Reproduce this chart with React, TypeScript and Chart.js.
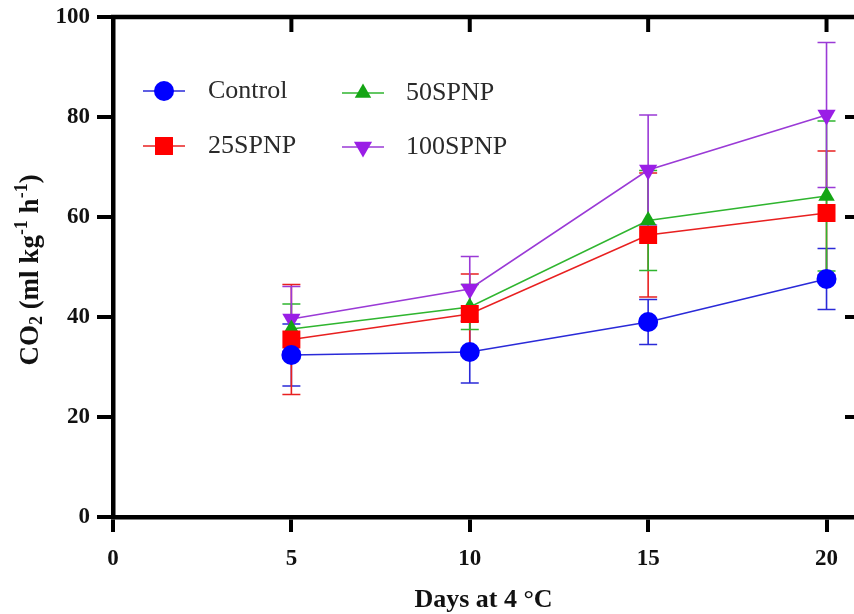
import React, { useEffect, useRef } from "react";
import { Chart, registerables } from "chart.js";

Chart.register(...registerables);

const days = [5, 10, 15, 20];
const seriesNames = ["Control", "25SPNP", "50SPNP", "100SPNP"];
const control = [32.4, 33.0, 39.0, 47.6];
const controlErr = [6.2, 6.2, 4.5, 6.1];
const spnp25 = [35.5, 40.6, 56.4, 60.8];
const spnp25Err = [11, 8, 12.4, 12.4];
const spnp50 = [37.6, 42.0, 59.3, 64.2];
const spnp50Err = [5, 4.5, 10, 15];
const spnp100 = [39.6, 45.6, 69.4, 80.4];
const spnp100Err = [6.5, 6.5, 11, 14.5];
const xTicks = [0, 5, 10, 15, 20];
const yTicks = [0, 20, 40, 60, 80, 100];

const FONT = "'Liberation Serif', 'Times New Roman', serif";

const styles = [
  { color: "#0000ff", line: "#2a2ad8", point: "circle", radius: 10, rotation: 0 },
  { color: "#ff0000", line: "#e82020", point: "rect", radius: 12.7, rotation: 0 },
  { color: "#14a514", line: "#2fb52f", point: "triangle", radius: 9.5, rotation: 0 },
  { color: "#9a1ee6", line: "#9a3ad6", point: "triangle", radius: 10.5, rotation: 180 },
];

const values = [control, spnp25, spnp50, spnp100];
const errors = [controlErr, spnp25Err, spnp50Err, spnp100Err];

const errorBarPlugin = {
  id: "errorBars",
  beforeDatasetsDraw(chart: any) {
    const ctx = chart.ctx;
    const xs = chart.scales.x;
    const ys = chart.scales.y;
    ctx.save();
    values.forEach((vals, i) => {
      ctx.strokeStyle = styles[i].line;
      ctx.lineWidth = 1.6;
      vals.forEach((v, j) => {
        const x = xs.getPixelForValue(days[j]);
        const yt = ys.getPixelForValue(v + errors[i][j]);
        const yb = ys.getPixelForValue(v - errors[i][j]);
        ctx.beginPath();
        ctx.moveTo(x, yt);
        ctx.lineTo(x, yb);
        ctx.moveTo(x - 9, yt);
        ctx.lineTo(x + 9, yt);
        ctx.moveTo(x - 9, yb);
        ctx.lineTo(x + 9, yb);
        ctx.stroke();
      });
    });
    ctx.restore();
  },
};

const framePlugin = {
  id: "frame",
  afterDraw(chart: any) {
    const ctx = chart.ctx;
    const { left, right, top } = chart.chartArea;
    const xs = chart.scales.x;
    const ys = chart.scales.y;
    ctx.save();
    ctx.strokeStyle = "#000";
    ctx.lineWidth = 4.5;
    ctx.beginPath();
    ctx.moveTo(left - 2, top);
    ctx.lineTo(right + 2, top);
    ctx.stroke();
    ctx.lineWidth = 4;
    xTicks.slice(1).forEach((t) => {
      const x = xs.getPixelForValue(t);
      ctx.beginPath();
      ctx.moveTo(x, top);
      ctx.lineTo(x, top + 15);
      ctx.stroke();
    });
    yTicks.slice(1, -1).forEach((t) => {
      const y = ys.getPixelForValue(t);
      ctx.beginPath();
      ctx.moveTo(right - 9, y);
      ctx.lineTo(right + 2, y);
      ctx.stroke();
    });
    ctx.restore();
  },
};

function drawMarker(ctx: CanvasRenderingContext2D, style: string, r: number, rot: number, x: number, y: number) {
  ctx.beginPath();
  if (style === "circle") {
    ctx.arc(x, y, r, 0, Math.PI * 2);
  } else if (style === "rect") {
    const s = Math.SQRT1_2 * r;
    ctx.rect(x - s, y - s, 2 * s, 2 * s);
  } else {
    const a = (rot * Math.PI) / 180;
    for (let k = 0; k < 3; k++) {
      const ang = a - Math.PI / 2 + (k * 2 * Math.PI) / 3;
      const px = x + Math.cos(ang) * r;
      const py = y + Math.sin(ang) * r;
      if (k === 0) ctx.moveTo(px, py);
      else ctx.lineTo(px, py);
    }
    ctx.closePath();
  }
  ctx.fill();
}

const legendPlugin = {
  id: "customLegend",
  afterDraw(chart: any) {
    const ctx = chart.ctx;
    const entries = [
      { i: 0, mx: 164, y: 91, tx: 208 },
      { i: 1, mx: 164, y: 146, tx: 208 },
      { i: 2, mx: 363, y: 93, tx: 406 },
      { i: 3, mx: 363, y: 147, tx: 406 },
    ];
    ctx.save();
    entries.forEach((e) => {
      const s = styles[e.i];
      ctx.strokeStyle = s.line;
      ctx.lineWidth = 1.6;
      ctx.beginPath();
      ctx.moveTo(e.mx - 21, e.y);
      ctx.lineTo(e.mx + 21, e.y);
      ctx.stroke();
      ctx.fillStyle = s.color;
      drawMarker(ctx, s.point, s.radius, s.rotation, e.mx, e.y);
      ctx.fillStyle = "#2a2a2a";
      ctx.font = `26px ${FONT}`;
      ctx.textAlign = "left";
      ctx.textBaseline = "middle";
      ctx.fillText(seriesNames[e.i], e.tx, e.y);
    });
    ctx.restore();
  },
};

const yTitlePlugin = {
  id: "yTitle",
  afterDraw(chart: any) {
    const ctx = chart.ctx;
    const parts = [
      { t: "CO", size: 27, dy: 0 },
      { t: "2", size: 18, dy: 6 },
      { t: " (ml kg", size: 27, dy: 0 },
      { t: "-1", size: 18, dy: -9 },
      { t: " h", size: 27, dy: 0 },
      { t: "-1", size: 18, dy: -9 },
      { t: ")", size: 27, dy: 0 },
    ];
    ctx.save();
    let total = 0;
    parts.forEach((p) => {
      ctx.font = `bold ${p.size}px ${FONT}`;
      total += ctx.measureText(p.t).width;
    });
    ctx.translate(31, 270);
    ctx.rotate(-Math.PI / 2);
    ctx.fillStyle = "#111";
    ctx.textBaseline = "middle";
    ctx.textAlign = "left";
    let x = -total / 2;
    parts.forEach((p) => {
      ctx.font = `bold ${p.size}px ${FONT}`;
      ctx.fillText(p.t, x, p.dy);
      x += ctx.measureText(p.t).width;
    });
    ctx.restore();
  },
};

export default function App() {
  const ref = useRef<HTMLCanvasElement>(null);
  useEffect(() => {
    if (!ref.current) return;
    const datasets = values.map((vals, i) => ({
      label: seriesNames[i],
      data: vals.map((v, j) => ({ x: days[j], y: v })),
      borderColor: styles[i].line,
      borderWidth: 1.6,
      backgroundColor: styles[i].color,
      pointStyle: styles[i].point,
      pointRadius: styles[i].radius,
      pointRotation: styles[i].rotation,
      pointBackgroundColor: styles[i].color,
      pointBorderColor: styles[i].color,
      pointBorderWidth: 0,
      tension: 0,
      clip: false as any,
    }));
    const chart = new Chart(ref.current, {
      type: "line",
      data: { datasets },
      options: {
        animation: false,
        responsive: true,
        maintainAspectRatio: false,
        layout: { autoPadding: false, padding: { top: 17, right: 0, left: 0, bottom: 0 } },
        plugins: { legend: { display: false }, tooltip: { enabled: false } },
        scales: {
          x: {
            type: "linear",
            min: 0,
            max: 20.77,
            afterFit: (s: any) => {
              s.height = 97;
              s.paddingLeft = 0;
              s.paddingRight = 0;
            },
            afterBuildTicks: (s: any) => {
              s.ticks = xTicks.map((v) => ({ value: v }));
            },
            ticks: {
              stepSize: 5,
              includeBounds: false,
              color: "#111",
              padding: 13,
              font: { family: FONT, size: 23, weight: "bold" },
            },
            grid: {
              drawOnChartArea: false,
              drawTicks: true,
              tickLength: 15,
              tickWidth: 4,
              lineWidth: 4,
              color: "#000",
            },
            border: { display: true, color: "#000", width: 4.5 },
            title: {
              display: true,
              text: "Days at 4 °C",
              color: "#111",
              font: { family: FONT, size: 26, weight: "bold" },
              padding: { top: 0, bottom: -2 },
            },
          },
          y: {
            min: 0,
            max: 100,
            afterFit: (s: any) => {
              s.width = 113;
              s.paddingTop = 0;
              s.paddingBottom = 0;
            },
            afterBuildTicks: (s: any) => {
              s.ticks = yTicks.map((v) => ({ value: v }));
            },
            ticks: {
              stepSize: 20,
              color: "#111",
              padding: 7,
              font: { family: FONT, size: 23, weight: "bold" },
            },
            grid: {
              drawOnChartArea: false,
              drawTicks: true,
              tickLength: 16,
              tickWidth: 4,
              lineWidth: 4,
              color: "#000",
            },
            border: { display: true, color: "#000", width: 4.5 },
            title: { display: false },
          },
        },
      },
      plugins: [errorBarPlugin, framePlugin, legendPlugin, yTitlePlugin],
    });
    return () => chart.destroy();
  }, []);
  return (
    <div style={{ position: "absolute", left: 0, top: 0, width: 854, height: 614 }}>
      <canvas ref={ref} />
    </div>
  );
}
